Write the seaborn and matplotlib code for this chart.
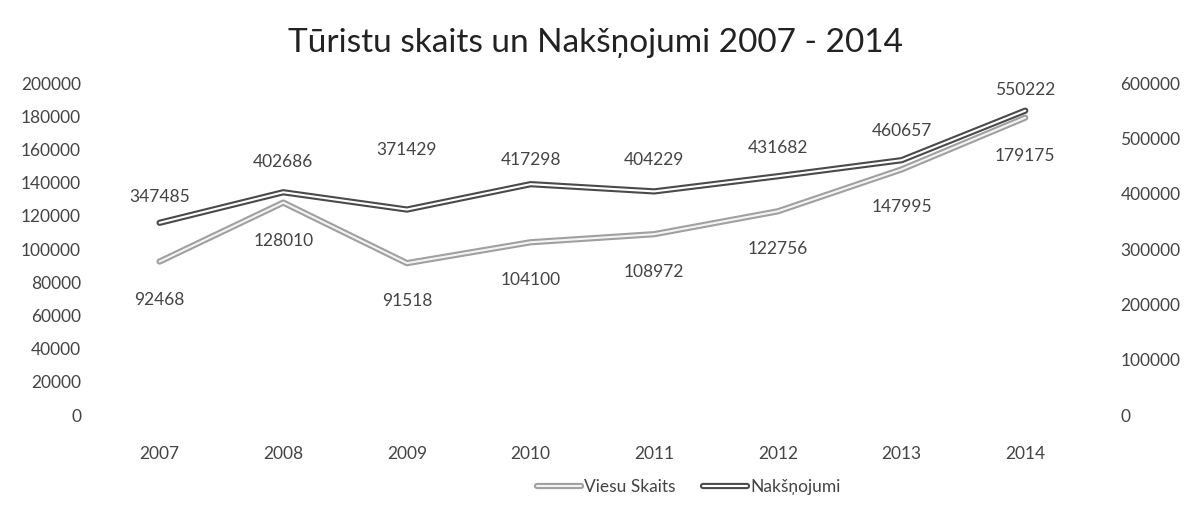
import matplotlib
matplotlib.use("Agg")
import matplotlib.pyplot as plt
import matplotlib.patheffects as pe
from matplotlib.lines import Line2D
import seaborn as sns
import pandas as pd

years = ["2007", "2008", "2009", "2010", "2011", "2012", "2013", "2014"]
viesu_skaits = [92468, 128010, 91518, 104100, 108972, 122756, 147995, 179175]
naksnojumi = [347485, 402686, 371429, 417298, 404229, 431682, 460657, 550222]

sns.set_style("white")
plt.rcParams["font.family"] = ["Lato", "DejaVu Sans"]

df = pd.DataFrame({"year": years, "viesi": viesu_skaits, "nakts": naksnojumi})
df["x"] = range(len(years))

fig = plt.figure(figsize=(11.92, 5.13), dpi=100)
ax = fig.add_axes([0.082, 0.191, 0.83, 0.647])
ax2 = ax.twinx()

viesu_fx = [pe.Stroke(linewidth=4.5, foreground="#a0a0a0"), pe.Normal()]
nakts_fx = [pe.Stroke(linewidth=4.5, foreground="#4a4a4a"), pe.Normal()]

sns.lineplot(data=df, x="x", y="viesi", ax=ax, color="#f4f4f4", lw=1.5,
             path_effects=viesu_fx, legend=False)
sns.lineplot(data=df, x="x", y="nakts", ax=ax2, color="white", lw=1.5,
             path_effects=nakts_fx, legend=False)

ax.set_ylim(0, 200000)
ax2.set_ylim(0, 600000)
ax.set_xlim(-0.5, len(years) - 0.5)
ax.set_yticks(range(0, 200001, 20000))
ax2.set_yticks(range(0, 600001, 100000))
ax.set_xticks(df["x"])
ax.set_xticklabels(years)
ax.set_xlabel("")
ax.set_ylabel("")
ax2.set_ylabel("")

tick_col = "#444444"
ax.tick_params(axis="y", length=0, labelsize=12.5, labelcolor=tick_col, pad=12)
ax.tick_params(axis="x", length=0, labelsize=12.5, labelcolor=tick_col, pad=22)
ax2.tick_params(axis="y", length=0, labelsize=12.5, labelcolor=tick_col, pad=24)
for a in (ax, ax2):
    for s in a.spines.values():
        s.set_visible(False)

# data labels
nakts_off = [26, 30, 60, 24, 31, 28, 29, 21]
for x, v in zip(df["x"], viesu_skaits):
    ax.annotate(f"{v}", (x, v), xytext=(0, -38 * 0.72), textcoords="offset points",
                ha="center", va="center", fontsize=12.5, color=tick_col)
for x, v, off in zip(df["x"], naksnojumi, nakts_off):
    ax2.annotate(f"{v}", (x, v), xytext=(0, off * 0.72), textcoords="offset points",
                 ha="center", va="center", fontsize=12.5, color=tick_col)

fig.suptitle("Tūristu skaits un Nakšņojumi 2007 - 2014", y=0.945, fontsize=24,
             color="#222222")

handles = [
    Line2D([], [], color="#f4f4f4", lw=1.5, path_effects=viesu_fx),
    Line2D([], [], color="white", lw=1.5, path_effects=nakts_fx),
]
fig.legend(handles, ["Viesu Skaits", "Nakšņojumi"], loc="center",
           bbox_to_anchor=(0.578, 0.05), ncol=2, frameon=False, fontsize=12.5,
           handlelength=2.5, handletextpad=0.2, columnspacing=1.6,
           labelcolor=tick_col)

fig.savefig("out.png", dpi=100)
